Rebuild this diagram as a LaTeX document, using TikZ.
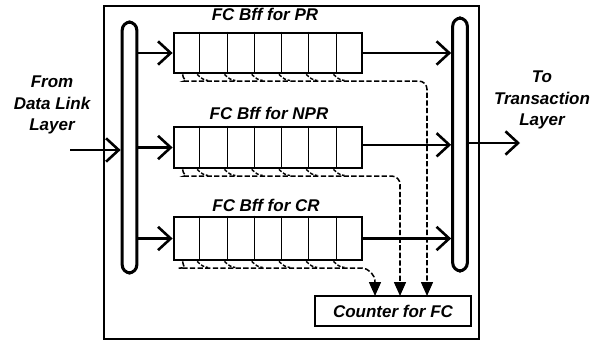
\documentclass[tikz,border=0pt]{standalone}
\usepackage{fontspec}
\setmainfont{Liberation Sans}
\usetikzlibrary{arrows.meta,calc}

\tikzstyle{lbl} = [font = \fontsize{14.5}{18}\selectfont\bfseries\itshape,
                   align = center,
                   inner sep = 0pt
                   ]
\tikzstyle{bus} = [draw, line width = 2.6pt,
                   rounded corners = 7pt,
                   minimum width = 0.44cm,
                   inner sep = 0pt
                   ]
\tikzstyle{bff} = [draw, line width = 2.4pt,
                   minimum width = 5.64cm,
                   inner sep = 0pt
                   ]
\tikzstyle{cell} = [line width = 1pt]
\tikzstyle{flow} = [line width = 2pt,
                    -{Straight Barb[length = 0.38cm, width = 0.7cm, line width = 2.2pt]}
                    ]
\tikzstyle{fcline} = [line width = 1.3pt,
                      dash pattern = on 4.5pt off 2pt,
                      rounded corners = 7pt,
                      -{Triangle[length = 0.42cm, width = 0.36cm]}
                      ]
\tikzstyle{hook} = [line width = 1.2pt,
                    dash pattern = on 3pt off 1.5pt
                    ]

\begin{document}
\begin{tikzpicture}[x = 0.03cm, y = -0.03cm]

    \useasboundingbox (0, 0) rectangle (600, 342);

    %%% Frame
    \draw[line width = 1.3pt] (104, 6) rectangle (479, 339);

    % Outside layers %
    \node (From) at (52, 105) [lbl]{From \\ Data Link \\ Layer};
    \node (To) at (542, 100) [lbl]{To \\ Transaction \\ Layer};
    \coordinate (In) at (70, 150);
    \coordinate (Out) at (520, 143);

    % Buses %
    \node (Lbus) at (129.5, 147.5) [bus, minimum height = 7.53cm]{};
    \node (Rbus) at (460, 144.5) [bus, minimum height = 7.59cm]{};

    %%% Buffers
    \node (PR) at (268, 53) [bff, minimum height = 1.2cm]{};
    \node (NPR) at (268, 147.5) [bff, minimum height = 1.23cm]{};
    \node (CR) at (268, 238.5) [bff, minimum height = 1.29cm]{};

    \node (tPR) at (265, 14) [lbl]{FC Bff for PR};
    \node (tNPR) at (269, 113) [lbl]{FC Bff for NPR};
    \node (tCR) at (266, 205) [lbl]{FC Bff for CR};

        % cells
        \foreach \b in {PR, NPR, CR}{
            \foreach \i in {1, ..., 6}
                \draw[cell] ($(\b.north west)!\i/7!(\b.north east)$) -- ($(\b.south west)!\i/7!(\b.south east)$);
            \foreach \i in {1, ..., 6}
                \draw[hook] ($(\b.south west)!{(\i - 0.1)/7}!(\b.south east)$) to[out = -40, in = 180] ++(11, 6);
        }

    % Counter %
    \node (Counter) at (393, 311) [draw, line width = 1.8pt, minimum width = 4.68cm, minimum height = 0.9cm, lbl]{Counter for FC};
    \coordinate (cCR) at (375, 296);
    \coordinate (cNPR) at (400, 296);
    \coordinate (cPR) at (427, 296);

    %%% Data flow
    \draw[flow] (In) -- (In -| Lbus.west);
    \draw[flow] (PR.west -| Lbus.east) -- (PR.west);
    \draw[flow] (NPR.west -| Lbus.east) -- (NPR.west);
    \draw[flow] (CR.west -| Lbus.east) -- (CR.west);

    \draw[flow] (PR.east) -- (PR.east -| Rbus.west);
    \draw[flow] ([yshift = 0.08cm]NPR.east) -- ([yshift = 0.08cm]NPR.east -| Rbus.west);
    \draw[flow] (CR.east) -- (CR.east -| Rbus.west);
    \draw[flow] (Out -| Rbus.east) -- (Out);

    %%% Flow control counts
    \draw[fcline] ([xshift = 0.3cm]PR.south west) to[out = -90, in = 180] ([xshift = 0.6cm, yshift = -0.2cm]PR.south west) -- ([yshift = -0.2cm]PR.south -| cPR) -- (cPR);
    \draw[fcline] ([xshift = 0.3cm]NPR.south west) to[out = -90, in = 180] ([xshift = 0.6cm, yshift = -0.2cm]NPR.south west) -- ([yshift = -0.2cm]NPR.south -| cNPR) -- (cNPR);
    \draw[fcline, rounded corners = 12pt] ([xshift = 0.3cm]CR.south west) to[out = -90, in = 180] ([xshift = 0.6cm, yshift = -0.2cm]CR.south west) -- ([yshift = -0.2cm]CR.south -| cCR) -- (cCR);

\end{tikzpicture}
\end{document}
